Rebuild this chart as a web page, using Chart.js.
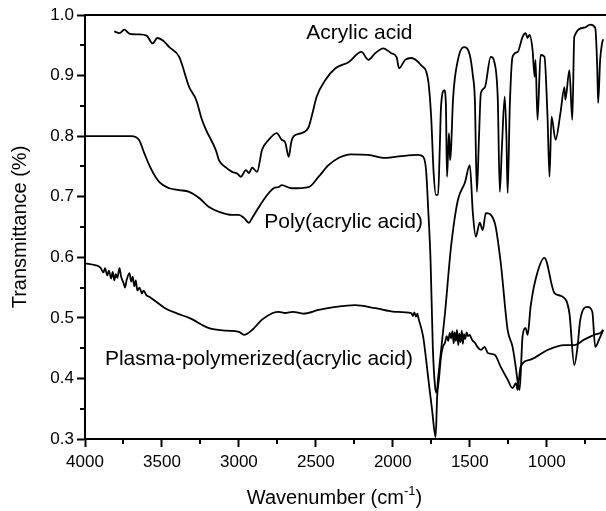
<!DOCTYPE html>
<html>
<head>
<meta charset="utf-8">
<script src="https://cdn.jsdelivr.net/npm/chart.js@4"></script>
<style>
  html, body { margin: 0; padding: 0; background: #fff; }
  #wrap { width: 606px; height: 511px; }
</style>
</head>
<body>
<div id="wrap"><canvas id="ftir-chart" width="606" height="511"></canvas></div>
<script>
// FTIR spectra (wavenumber cm-1, transmittance)
var acrylicWn = [3810,3775,3745,3710,3650,3600,3560,3530,3490,3452,3388,3323,3278,3240,3213,3150,3129,3083,3044,3010,2987,2955,2935,2914,2882,2850,2806,2754,2722,2700,2676,2660,2644,2593,2547,2520,2495,2437,2373,2288,2204,2159,2114,2062,2010,1975,1960,1920,1880,1816,1771,1751,1735,1720,1706,1695,1687,1665,1655,1648,1640,1635,1628,1622,1609,1577,1538,1500,1480,1467,1454,1440,1428,1403,1364,1338,1318,1305,1292,1273,1262,1254,1240,1222,1189,1157,1137,1125,1112,1092,1079,1073,1060,1040,1015,995,982,969,943,911,885,879,853,834,821,757,718,685,672,666,653,640,633];
var acrylicT = [0.973,0.970,0.976,0.969,0.968,0.966,0.953,0.962,0.957,0.947,0.931,0.881,0.860,0.827,0.810,0.777,0.760,0.748,0.741,0.738,0.733,0.744,0.739,0.748,0.741,0.777,0.794,0.805,0.794,0.790,0.766,0.790,0.800,0.805,0.815,0.840,0.865,0.893,0.912,0.922,0.939,0.926,0.937,0.945,0.937,0.930,0.912,0.926,0.929,0.917,0.893,0.832,0.740,0.703,0.703,0.780,0.848,0.876,0.850,0.733,0.780,0.805,0.760,0.777,0.860,0.926,0.947,0.934,0.900,0.860,0.708,0.800,0.871,0.880,0.931,0.920,0.860,0.708,0.777,0.865,0.800,0.706,0.850,0.931,0.939,0.964,0.970,0.962,0.967,0.942,0.898,0.926,0.827,0.934,0.931,0.832,0.733,0.832,0.794,0.838,0.881,0.860,0.909,0.827,0.964,0.979,0.984,0.979,0.914,0.855,0.926,0.954,0.960];

var polyWn = [4000,3700,3650,3615,3575,3517,3452,3388,3323,3258,3194,3129,3044,3000,2967,2935,2914,2870,2825,2774,2741,2722,2657,2547,2482,2418,2353,2270,2159,2049,1946,1836,1803,1784,1770,1755,1740,1725,1715,1706,1661,1622,1577,1532,1500,1480,1461,1435,1416,1396,1338,1299,1254,1222,1202,1189,1176,1157,1137,1124,1105,1073,1015,950,898,853,821,801,782,736,704,685,659,633];
var polyT = [0.800,0.800,0.794,0.772,0.748,0.724,0.714,0.711,0.708,0.698,0.683,0.675,0.670,0.670,0.665,0.657,0.665,0.683,0.700,0.714,0.716,0.719,0.714,0.716,0.733,0.752,0.764,0.770,0.769,0.764,0.767,0.769,0.766,0.744,0.678,0.596,0.450,0.385,0.376,0.400,0.508,0.617,0.695,0.723,0.752,0.673,0.634,0.657,0.645,0.673,0.657,0.591,0.480,0.452,0.420,0.395,0.381,0.470,0.483,0.472,0.518,0.563,0.599,0.541,0.535,0.508,0.422,0.450,0.497,0.518,0.510,0.452,0.465,0.480];

var plasmaWn = [4000,3935,3900,3880,3870,3855,3845,3830,3820,3810,3800,3790,3776,3765,3750,3740,3730,3711,3700,3690,3680,3670,3660,3646,3630,3620,3600,3582,3540,3480,3400,3323,3194,3083,3000,2967,2914,2850,2780,2741,2700,2650,2580,2482,2373,2245,2114,1985,1880,1870,1860,1850,1840,1836,1803,1771,1745,1722,1712,1700,1687,1675,1661,1650,1640,1630,1622,1612,1605,1598,1590,1583,1575,1568,1560,1552,1545,1538,1530,1520,1512,1500,1490,1480,1467,1450,1428,1403,1383,1338,1299,1254,1222,1200,1189,1182,1170,1105,995,885,821,757,691,653,633];
var plasmaT = [0.590,0.587,0.583,0.575,0.582,0.570,0.578,0.565,0.576,0.562,0.572,0.566,0.582,0.568,0.558,0.550,0.562,0.574,0.560,0.568,0.552,0.562,0.545,0.550,0.540,0.545,0.537,0.535,0.527,0.516,0.507,0.500,0.483,0.479,0.477,0.472,0.480,0.497,0.508,0.510,0.508,0.510,0.507,0.513,0.518,0.521,0.516,0.510,0.508,0.503,0.509,0.502,0.507,0.502,0.469,0.403,0.348,0.303,0.370,0.400,0.436,0.452,0.459,0.470,0.462,0.475,0.466,0.478,0.458,0.476,0.462,0.480,0.455,0.474,0.460,0.479,0.457,0.473,0.465,0.476,0.470,0.472,0.466,0.462,0.459,0.452,0.447,0.452,0.442,0.439,0.419,0.398,0.384,0.392,0.381,0.395,0.419,0.431,0.447,0.455,0.455,0.464,0.472,0.475,0.480];

var xTicks = [4000,3500,3000,2500,2000,1500,1000];
var xMinor = [3750,3250,2750,2250,1750,1250,750];
var yTicks = [0.3,0.4,0.5,0.6,0.7,0.8,0.9,1.0];
var yMinor = [0.35,0.45,0.55,0.65,0.75,0.85,0.95];

var curveLabels = [
  {text: 'Acrylic acid', x: 2217, y: 0.970},
  {text: 'Poly(acrylic acid)', x: 2320, y: 0.658},
  {text: 'Plasma-polymerized(acrylic acid)', x: 2870, y: 0.431}
];

function pairs(wn, t) {
  return wn.map(function(w, i) { return {x: w, y: t[i]}; });
}

var FONT = 'Arial, "Liberation Sans", sans-serif';

// top frame line, minor ticks, curve labels and axis titles
var extras = {
  id: 'extras',
  afterDraw: function(chart) {
    var ctx = chart.ctx, a = chart.chartArea;
    var xs = chart.scales.x, ys = chart.scales.y;
    ctx.save();
    ctx.strokeStyle = '#000';
    ctx.lineWidth = 2;
    ctx.beginPath();
    ctx.moveTo(a.left - 1, a.top);
    ctx.lineTo(a.right, a.top);
    ctx.stroke();

    ctx.beginPath();
    xMinor.forEach(function(v) {
      var px = Math.round(xs.getPixelForValue(v));
      ctx.moveTo(px, a.bottom);
      ctx.lineTo(px, a.bottom + 5);
    });
    yMinor.forEach(function(v) {
      var py = Math.round(ys.getPixelForValue(v));
      ctx.moveTo(a.left, py);
      ctx.lineTo(a.left - 5, py);
    });
    ctx.stroke();

    ctx.fillStyle = '#000';
    ctx.textAlign = 'center';
    ctx.textBaseline = 'middle';
    ctx.font = '21px ' + FONT;
    curveLabels.forEach(function(l) {
      ctx.fillText(l.text, xs.getPixelForValue(l.x), ys.getPixelForValue(l.y));
    });

    // x title with superscript
    var main = 'Wavenumber (cm', sup = '-1', end = ')';
    ctx.font = '20px ' + FONT;
    var w1 = ctx.measureText(main).width, w3 = ctx.measureText(end).width;
    ctx.font = '13px ' + FONT;
    var w2 = ctx.measureText(sup).width;
    var cx = (a.left + a.right) / 2 - 11;
    var x0 = cx - (w1 + w2 + w3) / 2, base = 504;
    ctx.textAlign = 'left';
    ctx.textBaseline = 'alphabetic';
    ctx.font = '20px ' + FONT;
    ctx.fillText(main, x0, base);
    ctx.font = '13px ' + FONT;
    ctx.fillText(sup, x0 + w1, base - 9);
    ctx.font = '20px ' + FONT;
    ctx.fillText(end, x0 + w1 + w2, base);

    // y title
    ctx.translate(20, (a.top + a.bottom) / 2);
    ctx.rotate(-Math.PI / 2);
    ctx.textAlign = 'center';
    ctx.textBaseline = 'middle';
    ctx.font = '20px ' + FONT;
    ctx.fillText('Transmittance (%)', 0, 0);
    ctx.restore();
  }
};

var lineStyle = {
  borderColor: '#000',
  borderWidth: 1.8,
  pointRadius: 0,
  fill: false,
  cubicInterpolationMode: 'monotone'
};

new Chart(document.getElementById('ftir-chart'), {
  type: 'line',
  data: {
    datasets: [
      Object.assign({label: 'Acrylic acid', data: pairs(acrylicWn, acrylicT)}, lineStyle),
      Object.assign({label: 'Poly(acrylic acid)', data: pairs(polyWn, polyT)}, lineStyle),
      Object.assign({label: 'Plasma-polymerized(acrylic acid)', data: pairs(plasmaWn, plasmaT)}, lineStyle)
    ]
  },
  options: {
    responsive: false,
    animation: false,
    layout: {padding: {top: 15, right: 0, left: 0, bottom: 0}},
    plugins: {
      legend: {display: false},
      tooltip: {enabled: false}
    },
    scales: {
      x: {
        type: 'linear',
        reverse: true,
        min: 615,
        max: 4000,
        afterBuildTicks: function(s) { s.ticks = xTicks.map(function(v) { return {value: v}; }); },
        afterFit: function(s) { s.height = 72; },
        ticks: {
          color: '#000',
          font: {size: 17, family: FONT},
          padding: 5,
          maxRotation: 0,
          callback: function(v) { return String(v); }
        },
        grid: {drawOnChartArea: false, drawTicks: true, tickLength: 8, tickWidth: 2, tickColor: '#000'},
        border: {display: true, color: '#000', width: 2}
      },
      y: {
        min: 0.3,
        max: 1.0,
        afterBuildTicks: function(s) { s.ticks = yTicks.map(function(v) { return {value: v}; }); },
        afterFit: function(s) { s.width = 85; },
        ticks: {
          color: '#000',
          font: {size: 17, family: FONT},
          padding: 3,
          callback: function(v) { return v.toFixed(1); }
        },
        grid: {drawOnChartArea: false, drawTicks: true, tickLength: 8, tickWidth: 2, tickColor: '#000'},
        border: {display: true, color: '#000', width: 2}
      }
    }
  },
  plugins: [extras]
});
</script>
</body>
</html>
